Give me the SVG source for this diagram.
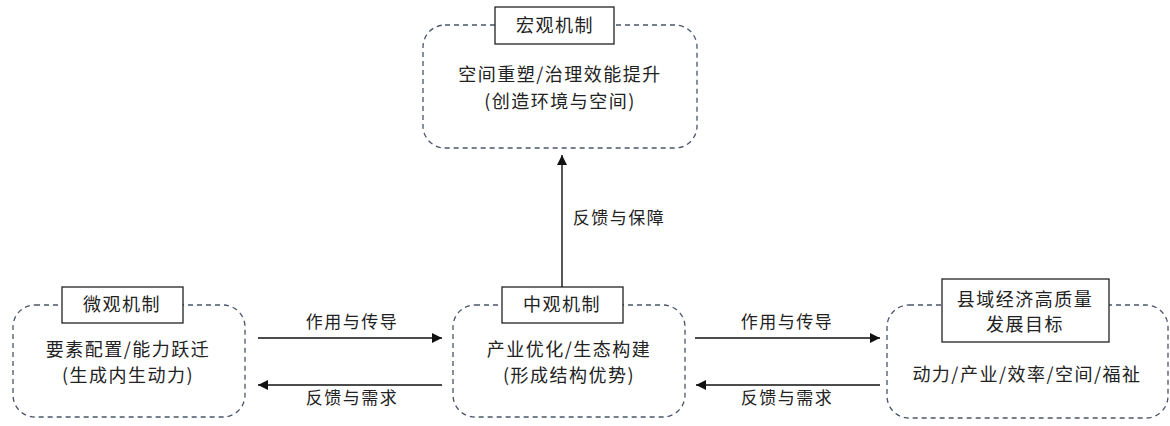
<svg xmlns="http://www.w3.org/2000/svg" width="1170" height="426" viewBox="0 0 1170 426">
<style>
.dash{fill:none;stroke:#4a5568;stroke-width:1.3;stroke-dasharray:5,4}
.lbl{fill:#fff;stroke:#222;stroke-width:1.3}
text{font-family:"Noto Sans CJK SC","Liberation Sans",sans-serif;fill:#222;text-anchor:middle;font-size:18px;letter-spacing:1.5px}
.sm{font-size:17px}
.ln{stroke:#111;stroke-width:1.4;fill:none}
</style>
<defs>
<marker id="ah" viewBox="0 0 10 10" refX="10" refY="5" markerWidth="10" markerHeight="10" markerUnits="userSpaceOnUse" orient="auto"><path d="M0,0 L10,5 L0,10 z" fill="#111"/></marker>
</defs>
<rect width="1170" height="426" fill="#fff"/>
<g id="macro">
<rect class="dash" x="423" y="25" width="274" height="123" rx="22"/>
<rect class="lbl" x="495" y="7" width="119" height="37"/>
<text x="555" y="32">宏观机制</text>
<text x="560" y="81">空间重塑/治理效能提升</text>
<text x="560" y="108">(创造环境与空间)</text>
</g>
<g id="micro">
<rect class="dash" x="13" y="305" width="232" height="112" rx="22"/>
<rect class="lbl" x="62" y="287" width="121" height="36"/>
<text x="122" y="311">微观机制</text>
<text x="128" y="356">要素配置/能力跃迁</text>
<text x="128" y="382">(生成内生动力)</text>
</g>
<g id="meso">
<rect class="dash" x="453" y="305" width="232" height="112" rx="22"/>
<rect class="lbl" x="502" y="287" width="121" height="36"/>
<text x="562" y="311">中观机制</text>
<text x="569" y="356">产业优化/生态构建</text>
<text x="569" y="382">(形成结构优势)</text>
</g>
<g id="goal">
<rect class="dash" x="887" y="305" width="281" height="113" rx="22"/>
<rect class="lbl" x="942" y="279" width="167" height="63"/>
<text x="1025" y="306">县域经济高质量</text>
<text x="1025" y="331">发展目标</text>
<text x="1027" y="381">动力/产业/效率/空间/福祉</text>
</g>
<g id="connectors">
<line class="ln" x1="258" y1="338" x2="442" y2="338" marker-end="url(#ah)"/>
<line class="ln" x1="442" y1="385" x2="258" y2="385" marker-end="url(#ah)"/>
<line class="ln" x1="695" y1="338" x2="880" y2="338" marker-end="url(#ah)"/>
<line class="ln" x1="880" y1="385" x2="696" y2="385" marker-end="url(#ah)"/>
<line class="ln" x1="562" y1="287" x2="562" y2="155" marker-end="url(#ah)"/>
<text class="sm" x="352" y="328">作用与传导</text>
<text class="sm" x="352" y="404">反馈与需求</text>
<text class="sm" x="787" y="328">作用与传导</text>
<text class="sm" x="787" y="404">反馈与需求</text>
<text class="sm" x="619" y="224">反馈与保障</text>
</g>
</svg>
